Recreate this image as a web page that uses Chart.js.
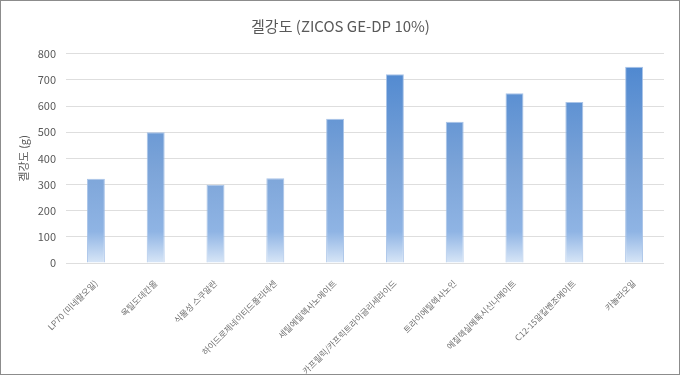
<!DOCTYPE html>
<html><head><meta charset="utf-8">
<script src="https://cdn.jsdelivr.net/npm/chart.js@4"></script>
<style>
html,body{margin:0;padding:0;background:#fff;}
#wrap{position:relative;width:680px;height:375px;box-sizing:border-box;border:1px solid #8c8c8c;}
canvas{display:block;}
</style></head><body>
<div id="wrap"><canvas id="c" width="678" height="373"></canvas></div>
<script>
const categories = ["LP70 (미네랄오일)","옥틸도데칸올","식물성 스쿠알란","하이드로제네이티드폴리데센","세틸에틸헥사노에이트","카프릴릭/카프릭트라이글리세라이드","트라이에틸헥사노인","에칠헥실메톡시신나메이트","C12-15알킬벤조에이트","카놀라오일"];
const gelStrength = [322, 500, 299, 324, 551, 721, 540, 649, 615, 750];
const yTicks = [0,100,200,300,400,500,600,700,800];
const chartTitle = "겔강도 (ZICOS GE-DP 10%)";
const yTitle = "겔강도 (g)";

const FONT = "'Noto Sans CJK KR', 'Noto Sans', sans-serif";
function grad(ctx){
  const ch = ctx.chart; const a = ch.chartArea;
  if(!a) return '#5b8fd4';
  const y0 = ch.scales.y.getPixelForValue(0);
  const y1 = ch.scales.y.getPixelForValue(800);
  const g = ch.ctx.createLinearGradient(0, y1, 0, y0);
  g.addColorStop(0, '#4a85cf');
  g.addColorStop(0.55, '#7ca4d8');
  g.addColorStop(0.85, '#8fb4e4');
  g.addColorStop(1, '#d8e6f7');
  return g;
}
new Chart(document.getElementById('c'), {
  type: 'bar',
  data: { labels: categories, datasets: [{ data: gelStrength, backgroundColor: grad, borderColor: 'rgba(160,190,230,0.9)', borderWidth: 1, barPercentage: 0.3, categoryPercentage: 1.0 }] },
  options: {
    responsive: false, animation: false,
    layout: { padding: { left: 16, right: 15, top: 0, bottom: 0 } },
    plugins: {
      legend: { display: false }, tooltip: { enabled: false },
      title: { display: true, text: chartTitle, color: '#595959', font: { family: FONT, size: 15, weight: 'normal' }, padding: { top: 16.5, bottom: 18.2 } }
    },
    scales: {
      x: {
        grid: { display: false }, border: { display: false },
        ticks: { color: '#707070', font: { family: FONT, size: 8.5 }, minRotation: 45, maxRotation: 45, autoSkip: false, padding: 7 },
        afterFit: s => { s.height = 111; }
      },
      y: {
        min: 0, max: 800,
        afterBuildTicks: s => { s.ticks = yTicks.map(v => ({ value: v })); },
        grid: { color: '#dedede', drawTicks: false }, border: { display: false },
        ticks: { color: '#595959', font: { family: FONT, size: 11 }, padding: 10 },
        title: { display: true, text: yTitle, color: '#595959', font: { family: FONT, size: 11 }, padding: 0 },
        afterFit: s => { s.width = 49; }
      }
    }
  }
});
</script></body></html>
